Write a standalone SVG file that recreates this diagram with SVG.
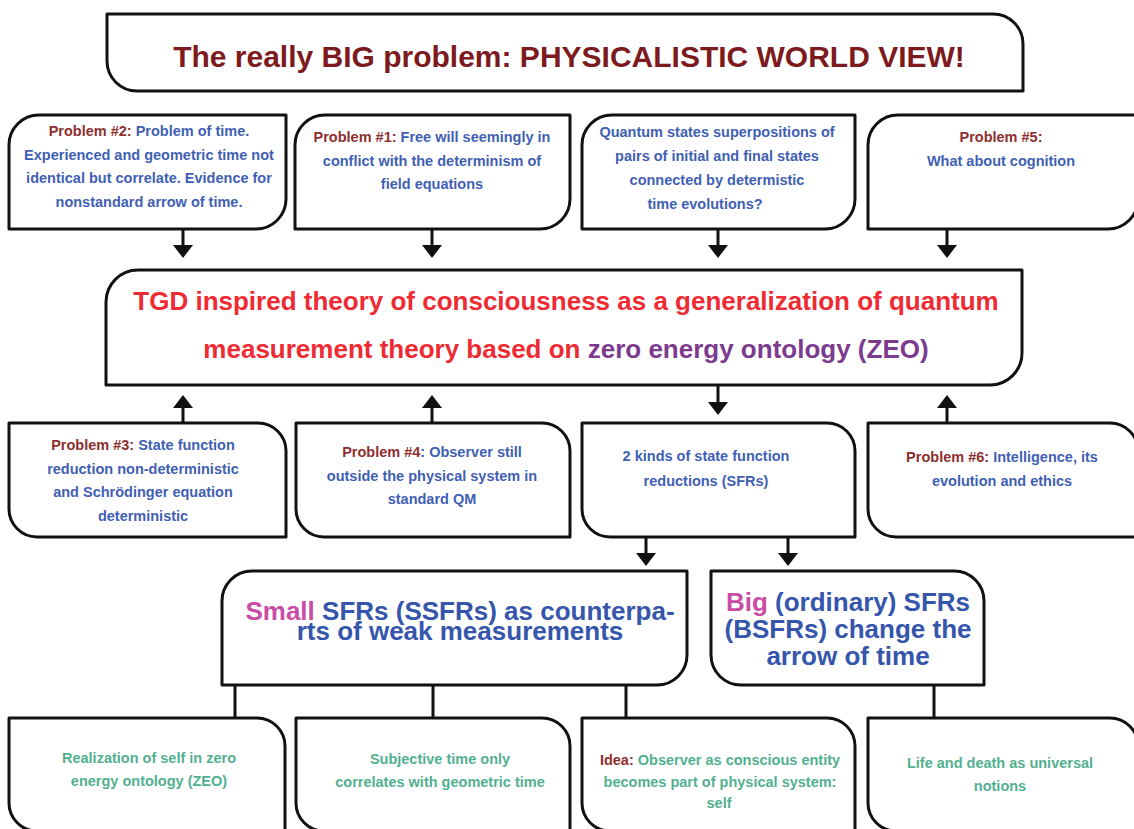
<svg xmlns="http://www.w3.org/2000/svg" width="1134" height="829" viewBox="0 0 1134 829">
  <style>
    .box { fill: #ffffff; stroke: #111111; stroke-width: 3; stroke-linejoin: round; }
    .wire { stroke: #111111; stroke-width: 3; fill: none; }
    .arrow { marker-end: url(#head); }
    text { font-family: "Liberation Sans", Arial, sans-serif; font-weight: bold; text-anchor: middle; }
    .title { font-size: 30px; fill: #7d1a1d; }
    .main { font-size: 26px; fill: #ee2b33; }
    .zeo { fill: #7c3b8e; }
    .big { font-size: 26px; fill: #3556ac; }
    .mag { fill: #c94ca6; }
    .small { font-size: 14.5px; fill: #3f5fb4; }
    .green { font-size: 14.5px; fill: #52b090; }
    .lbl { fill: #8e2f2f; }
  </style>
  <defs>
    <marker id="head" viewBox="0 -10 13 20" refX="0" refY="0" markerWidth="13" markerHeight="20" markerUnits="userSpaceOnUse" orient="auto">
      <path d="M0,-10 L13,0 L0,10 Z" fill="#111111"/>
    </marker>
  </defs>
  <rect width="1134" height="829" fill="#ffffff"/>

  <!-- connectors -->
  <g id="connectors">
    <line class="wire arrow" x1="183" y1="229" x2="183" y2="245"/>
    <line class="wire arrow" x1="432" y1="229" x2="432" y2="245"/>
    <line class="wire arrow" x1="718" y1="229" x2="718" y2="245"/>
    <line class="wire arrow" x1="947" y1="229" x2="947" y2="245"/>
    <line class="wire arrow" x1="183" y1="423" x2="183" y2="408"/>
    <line class="wire arrow" x1="432" y1="423" x2="432" y2="408"/>
    <line class="wire arrow" x1="947" y1="423" x2="947" y2="408"/>
    <line class="wire arrow" x1="718" y1="385" x2="718" y2="402"/>
    <line class="wire arrow" x1="646" y1="537" x2="646" y2="553"/>
    <line class="wire arrow" x1="788" y1="537" x2="788" y2="553"/>
    <line class="wire" x1="235" y1="685" x2="235" y2="718"/>
    <line class="wire" x1="433" y1="685" x2="433" y2="718"/>
    <line class="wire" x1="626" y1="685" x2="626" y2="718"/>
    <line class="wire" x1="934" y1="685" x2="934" y2="718"/>
  </g>

  <!-- headline -->
  <g id="physicalism">
    <path class="box" d="M107,14 H993 A30,30 0 0 1 1023,44 V91 H137 A30,30 0 0 1 107,61 Z"/>
    <text class="title" x="569" y="67">The really BIG problem: PHYSICALISTIC WORLD VIEW!</text>
  </g>

  <!-- first row of problems -->
  <g id="problem2">
    <path class="box" d="M9,145 A30,30 0 0 1 39,115 H286 V199 A30,30 0 0 1 256,229 H9 Z"/>
    <text class="small" x="149" y="136"><tspan class="lbl">Problem #2:</tspan> Problem of time.</text>
    <text class="small" x="149" y="160">Experienced and geometric time not</text>
    <text class="small" x="149" y="183">identical but correlate. Evidence for</text>
    <text class="small" x="149" y="207">nonstandard arrow of time.</text>
  </g>
  <g id="problem1">
    <path class="box" d="M295,145 A30,30 0 0 1 325,115 H570 V199 A30,30 0 0 1 540,229 H295 Z"/>
    <text class="small" x="432" y="142"><tspan class="lbl">Problem #1:</tspan> Free will seemingly in</text>
    <text class="small" x="432" y="166">conflict with the determinism of</text>
    <text class="small" x="432" y="189">field equations</text>
  </g>
  <g id="superpositions">
    <path class="box" d="M582,145 A30,30 0 0 1 612,115 H855 V199 A30,30 0 0 1 825,229 H582 Z"/>
    <text class="small" x="717" y="137">Quantum states superpositions of</text>
    <text class="small" x="717" y="161">pairs of initial and final states</text>
    <text class="small" x="717" y="185">connected by determistic</text>
    <text class="small" x="705" y="209">time evolutions?</text>
  </g>
  <g id="problem5">
    <path class="box" d="M868,145 A30,30 0 0 1 898,115 H1138 V199 A30,30 0 0 1 1108,229 H868 Z"/>
    <text class="small lbl" x="1001" y="142">Problem #5:</text>
    <text class="small" x="1001" y="166">What about cognition</text>
  </g>

  <!-- central theory -->
  <g id="tgd-theory">
    <path class="box" d="M106,302 A32,32 0 0 1 138,270 H1022 V353 A32,32 0 0 1 990,385 H106 Z"/>
    <text class="main" x="566" y="310">TGD inspired theory of consciousness as a generalization of quantum</text>
    <text class="main" x="566" y="358">measurement theory based on <tspan class="zeo">zero energy ontology (ZEO)</tspan></text>
  </g>

  <!-- second row -->
  <g id="problem3">
    <path class="box" d="M9,423 H258 A28,28 0 0 1 286,451 V537 H37 A28,28 0 0 1 9,509 Z"/>
    <text class="small" x="143" y="450"><tspan class="lbl">Problem #3:</tspan> State function</text>
    <text class="small" x="143" y="474">reduction non-deterministic</text>
    <text class="small" x="143" y="497">and Schrödinger equation</text>
    <text class="small" x="143" y="521">deterministic</text>
  </g>
  <g id="problem4">
    <path class="box" d="M296,423 H542 A28,28 0 0 1 570,451 V537 H324 A28,28 0 0 1 296,509 Z"/>
    <text class="small" x="432" y="457"><tspan class="lbl">Problem #4</tspan>: Observer still</text>
    <text class="small" x="432" y="481">outside the physical system in</text>
    <text class="small" x="432" y="504">standard QM</text>
  </g>
  <g id="sfr-kinds">
    <path class="box" d="M582,423 H827 A28,28 0 0 1 855,451 V537 H610 A28,28 0 0 1 582,509 Z"/>
    <text class="small" x="706" y="461">2 kinds of state function</text>
    <text class="small" x="706" y="486">reductions (SFRs)</text>
  </g>
  <g id="problem6">
    <path class="box" d="M868,423 H1110 A28,28 0 0 1 1138,451 V537 H896 A28,28 0 0 1 868,509 Z"/>
    <text class="small" x="1002" y="462"><tspan class="lbl">Problem #6:</tspan> Intelligence, its</text>
    <text class="small" x="1002" y="486">evolution and ethics</text>
  </g>

  <!-- the two kinds of reduction -->
  <g id="ssfr">
    <path class="box" d="M222,601 A30,30 0 0 1 252,571 H687 V655 A30,30 0 0 1 657,685 H222 Z"/>
    <text class="big" x="460" y="620"><tspan class="mag">Small</tspan> SFRs (SSFRs) as counterpa-</text>
    <text class="big" x="460" y="640">rts of weak measurements</text>
  </g>
  <g id="bsfr">
    <path class="box" d="M711,571 H954 A30,30 0 0 1 984,601 V685 H741 A30,30 0 0 1 711,655 Z"/>
    <text class="big" x="848" y="611"><tspan class="mag">Big</tspan> (ordinary) SFRs</text>
    <text class="big" x="848" y="638">(BSFRs) change the</text>
    <text class="big" x="848" y="665">arrow of time</text>
  </g>

  <!-- consequences -->
  <g id="self-zeo">
    <path class="box" d="M9,718 H257 A28,28 0 0 1 285,746 V831 H37 A28,28 0 0 1 9,803 Z"/>
    <text class="green" x="149" y="763">Realization of self in zero</text>
    <text class="green" x="149" y="786">energy ontology (ZEO)</text>
  </g>
  <g id="subjective-time">
    <path class="box" d="M296,718 H542 A28,28 0 0 1 570,746 V831 H324 A28,28 0 0 1 296,803 Z"/>
    <text class="green" x="440" y="764">Subjective time only</text>
    <text class="green" x="440" y="787">correlates with geometric time</text>
  </g>
  <g id="observer-self">
    <path class="box" d="M582,718 H827 A28,28 0 0 1 855,746 V831 H610 A28,28 0 0 1 582,803 Z"/>
    <text class="green" x="720" y="765"><tspan class="lbl">Idea:</tspan> Observer as conscious entity</text>
    <text class="green" x="720" y="787">becomes part of physical system:</text>
    <text class="green" x="719" y="808">self</text>
  </g>
  <g id="life-death">
    <path class="box" d="M868,718 H1110 A28,28 0 0 1 1138,746 V831 H896 A28,28 0 0 1 868,803 Z"/>
    <text class="green" x="1000" y="768">Life and death as universal</text>
    <text class="green" x="1000" y="791">notions</text>
  </g>
</svg>
